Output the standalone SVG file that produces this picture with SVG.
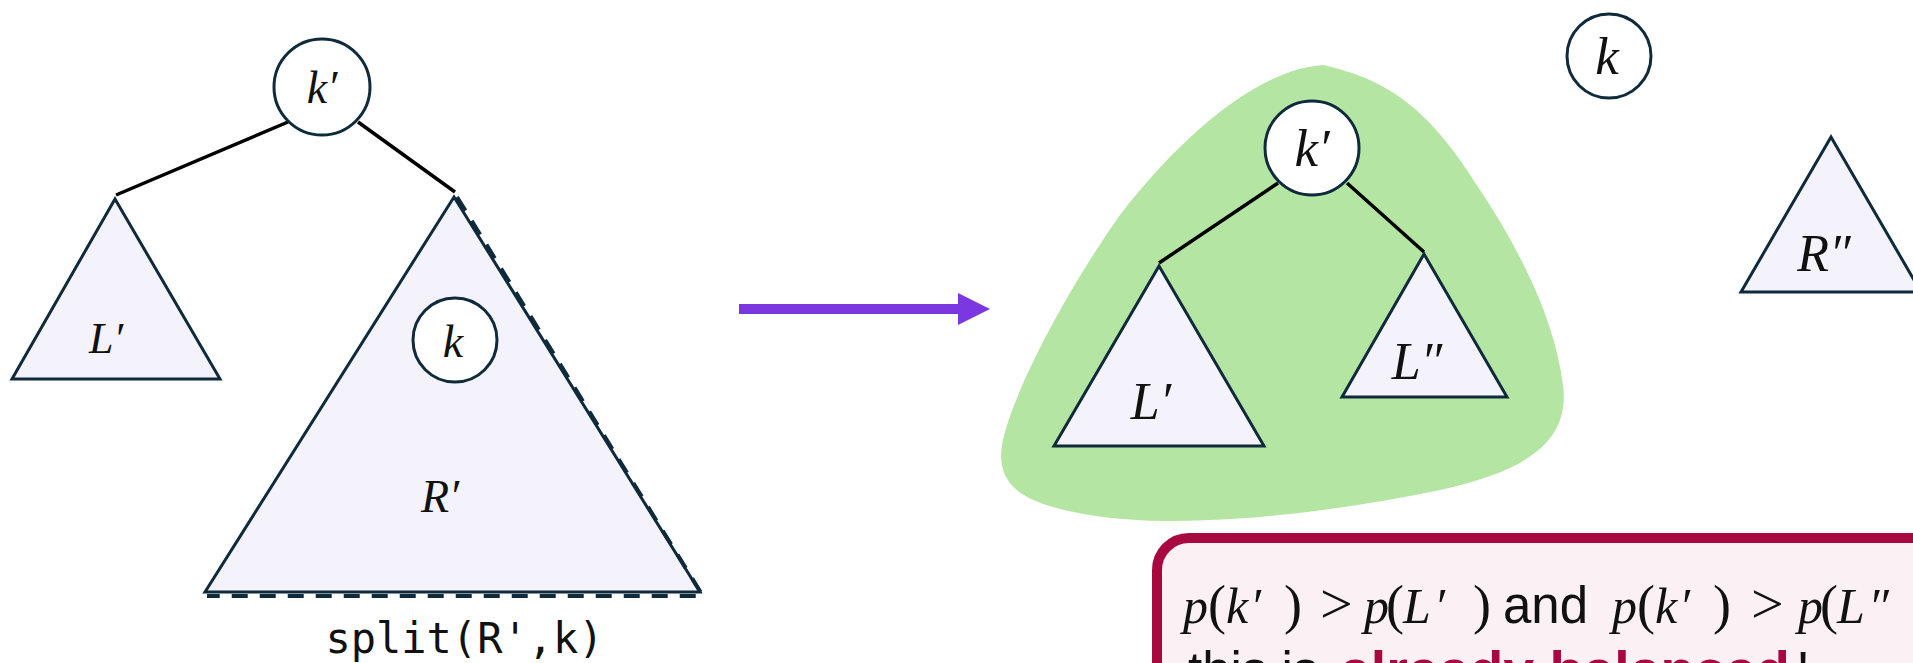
<svg xmlns="http://www.w3.org/2000/svg" width="1913" height="663" viewBox="0 0 1913 663">
  <style>
    .tri { fill: #F4F2FA; stroke: #0E2A3B; stroke-width: 3; stroke-linejoin: miter; }
    .node { fill: #FFFFFF; stroke: #0E2A3B; stroke-width: 3; }
    .edge { stroke: #000000; stroke-width: 3.5; fill: none; }
    .math { font-family: "Liberation Serif", "DejaVu Serif", serif; font-style: italic; fill: #111111; text-anchor: middle; }
    .mi { font-family: "Liberation Serif", "DejaVu Serif", serif; font-style: italic; fill: #111111; font-size: 50px; }
    .mo { font-family: "Liberation Serif", "DejaVu Serif", serif; fill: #111111; font-size: 54px; }
    .gt { font-family: "Liberation Serif", "DejaVu Serif", serif; fill: #111111; font-size: 58px; }
    .sans { font-family: "Liberation Sans", Arial, sans-serif; fill: #111111; font-size: 51px; }
    .hl { font-weight: bold; fill: #A8083F; }
    .mono { font-family: "DejaVu Sans Mono", "Liberation Mono", monospace; fill: #111111; }
  </style>
  <rect width="1913" height="663" fill="#FFFFFF"/>

  <!-- green blob -->
  <path id="blob" d="M 1323,65 C 1250,70 1170,150 1120,215 C 1060,300 1010,400 1002,445 C 995,490 1030,505 1090,515 C 1180,530 1320,515 1440,490 C 1530,470 1570,440 1563,385 C 1555,320 1520,250 1480,190 C 1430,110 1390,80 1323,65 Z" fill="#B4E5A2"/>

  <g id="connectors">
    <line class="edge" x1="288" y1="122" x2="116" y2="195"/>
    <line class="edge" x1="358" y1="122" x2="455" y2="192"/>
    <line class="edge" x1="1278" y1="183" x2="1159" y2="263"/>
    <line class="edge" x1="1347" y1="183" x2="1424" y2="252"/>
    <g id="arrow">
      <rect x="739" y="304" width="222" height="10" fill="#7B38E0"/>
      <path d="M958,293 L990,309 L958,325 Z" fill="#7B38E0"/>
    </g>
  </g>

  <g id="left-root">
    <circle class="node" cx="322" cy="87" r="48"/>
    <text class="math" x="322" y="103" font-size="46">k′</text>
  </g>
  <g id="left-Lp">
    <polygon class="tri" points="115,199 12,379 220,379"/>
    <text class="math" x="106" y="353" font-size="44">L′</text>
  </g>
  <g id="left-Rp">
    <polygon class="tri" points="454,197 205,592 700,592"/>
    <path d="M 457,197 L 703,596 L 207,596" fill="none" stroke="#0E2A3B" stroke-width="4" stroke-dasharray="16 12"/>
    <text class="math" x="440" y="512" font-size="46">R′</text>
  </g>
  <g id="left-k">
    <circle class="node" cx="455" cy="340" r="42"/>
    <text class="math" x="453" y="357" font-size="46">k</text>
  </g>
  <g id="split-label">
    <text class="mono" x="464.5" y="653" font-size="42" text-anchor="middle">split(R',k)</text>
  </g>

  <g id="right-root">
    <circle class="node" cx="1312" cy="148" r="47"/>
    <text class="math" x="1312" y="166" font-size="53">k′</text>
  </g>
  <g id="right-Lp">
    <polygon class="tri" points="1159,266 1054,446 1264,446"/>
    <text class="math" x="1151" y="419" font-size="52">L′</text>
  </g>
  <g id="right-Lpp">
    <polygon class="tri" points="1424,254 1342,397 1507,397"/>
    <text class="math" x="1417" y="379" font-size="52">L″</text>
  </g>
  <g id="right-k">
    <circle class="node" cx="1609" cy="56" r="42"/>
    <text class="math" x="1607" y="74" font-size="53">k</text>
  </g>
  <g id="right-Rpp">
    <polygon class="tri" points="1831,137 1741,292 1921,292"/>
    <text class="math" x="1824" y="271" font-size="52">R″</text>
  </g>

  <g id="note">
    <rect x="1157" y="538" width="800" height="200" rx="32" ry="32" fill="#FBF0F4" stroke="#A8083F" stroke-width="10"/>
    <text y="623"><tspan class="mi" x="1183">p</tspan><tspan class="mo" x="1208">(</tspan><tspan class="mi" x="1226">k</tspan><tspan class="mi" x="1250">′</tspan><tspan class="mo" x="1284">)</tspan><tspan class="gt" x="1320">&gt;</tspan><tspan class="mi" x="1364">p</tspan><tspan class="mo" x="1386">(</tspan><tspan class="mi" x="1403">L</tspan><tspan class="mi" x="1434">′</tspan><tspan class="mo" x="1473">)</tspan><tspan class="sans" x="1503">and</tspan><tspan class="mi" x="1612">p</tspan><tspan class="mo" x="1637">(</tspan><tspan class="mi" x="1655">k</tspan><tspan class="mi" x="1679">′</tspan><tspan class="mo" x="1713">)</tspan><tspan class="gt" x="1751">&gt;</tspan><tspan class="mi" x="1798">p</tspan><tspan class="mo" x="1820">(</tspan><tspan class="mi" x="1837">L</tspan><tspan class="mi" x="1868">″</tspan></text>
    <text class="sans" x="1188" y="688">this is</text>
    <text class="sans hl" x="1340" y="688" textLength="450" lengthAdjust="spacingAndGlyphs">already balanced</text>
    <text class="sans" x="1796" y="688">!</text>
  </g>
</svg>
